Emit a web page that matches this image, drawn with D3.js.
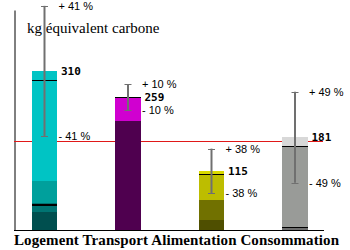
<!DOCTYPE html>
<html><head><meta charset="utf-8">
<script src="https://cdn.jsdelivr.net/npm/d3@7"></script>
<style>body{margin:0;background:#fff;} svg{display:block;}</style>
</head><body>
<svg id="c" width="350" height="250"></svg>
<script>
const categories = ["Logement", "Transport", "Alimentation", "Consommation"];
const totals = [310, 259, 115, 181];
const uncertainty = [41, 10, 38, 49];
const referenceValue = 173;
// stacked sub-part boundaries (kg eq. C), bottom to top
const segmentBounds = [
  [0, 35, 52.7, 95.6, 310],
  [0, 212.5, 259],
  [0, 19.5, 58.5, 108.6, 115],
  [0, 5, 163.8, 181]
];
// black separator lines inside bars
const separators = [[48, 50.7, 292.5], [259], [108.6], [5.3, 163.8]];
const title = "kg équivalent carbone";

const segmentColors = [
  ["#004f4f", "#007472", "#00a09c", "#00c4c4"],
  ["#4f004f", "#d000d0"],
  ["#4f4f00", "#717100", "#bdbd00", "#d9d900"],
  ["#6e6e6e", "#999b98", "#d8d8d8"]
];

const svg = d3.select("#c");
const y = d3.scaleLinear().domain([0, 429]).range([230, 10]);
const x = d3.scalePoint().domain(categories).range([44.5, 295]);
const bw = 25.5;

// y axis
svg.append("g").attr("transform", "translate(14.5,0)")
  .call(d3.axisLeft(y).ticks(0).tickSizeOuter(0))
  .select(".domain").attr("stroke", "#000");

// reference line
svg.append("line").attr("x1", 14).attr("x2", 323)
  .attr("y1", Math.round(y(referenceValue)) + 0.5).attr("y2", Math.round(y(referenceValue)) + 0.5)
  .attr("stroke", "#e01818").attr("stroke-width", 1).attr("shape-rendering", "crispEdges");

// bars
categories.forEach((c, i) => {
  const cx = x(c);
  const b = segmentBounds[i];
  const g = svg.append("g").attr("shape-rendering", "crispEdges");
  for (let k = 0; k < b.length - 1; k++) {
    g.append("rect").attr("x", cx - bw / 2).attr("width", bw)
      .attr("y", y(b[k + 1])).attr("height", y(b[k]) - y(b[k + 1]))
      .attr("fill", segmentColors[i][k]);
  }
  separators[i].forEach(v => {
    g.append("line").attr("x1", cx - bw / 2).attr("x2", cx + bw / 2)
      .attr("y1", Math.round(y(v)) + 0.5).attr("y2", Math.round(y(v)) + 0.5)
      .attr("stroke", "#000").attr("stroke-width", 1);
  });
});

// baseline
svg.append("line").attr("x1", 14).attr("x2", 324)
  .attr("y1", y(0) + 0.5).attr("y2", y(0) + 0.5).attr("stroke", "#000");

// title
svg.append("text").attr("x", 27).attr("y", 33)
  .attr("font-family", "Liberation Serif, Times New Roman, serif").attr("font-size", 15)
  .attr("fill", "#000").text(title);

// error bars + labels
categories.forEach((c, i) => {
  const cx = x(c);
  const hi = totals[i] * (1 + uncertainty[i] / 100);
  const lo = totals[i] * (1 - uncertainty[i] / 100);
  const g = svg.append("g");
  g.append("line").attr("x1", cx).attr("x2", cx).attr("y1", y(hi)).attr("y2", y(lo))
    .attr("stroke", "#707070").attr("stroke-width", 2);
  [hi, lo].forEach(v => {
    g.append("line").attr("x1", cx - 3.5).attr("x2", cx + 3.5)
      .attr("y1", Math.round(y(v)) + 0.5).attr("y2", Math.round(y(v)) + 0.5)
      .attr("stroke", "#707070").attr("stroke-width", 1);
  });
  const pf = "Liberation Sans, Arial, sans-serif";
  g.append("text").attr("x", cx + 14).attr("y", y(hi) + 4)
    .attr("font-family", pf).attr("font-size", 11).text("+ " + uncertainty[i] + " %");
  g.append("text").attr("x", cx + 14).attr("y", y(lo) + 4)
    .attr("font-family", pf).attr("font-size", 11).text("- " + uncertainty[i] + " %");
  g.append("text").attr("x", cx + 16.5).attr("y", y(totals[i]) + 4)
    .attr("font-family", "DejaVu Sans Mono, monospace").attr("font-weight", "bold")
    .attr("font-size", 11).text(totals[i]);
});

// category labels (one flowing line)
const t = svg.append("text").attr("x", 14).attr("y", 245)
  .attr("font-family", "Liberation Serif, Times New Roman, serif").attr("font-weight", "bold")
  .attr("font-size", 15).attr("fill", "#000")
  .attr("textLength", 325).attr("lengthAdjust", "spacing");
t.selectAll("tspan").data(categories).join("tspan")
  .text((d, i) => (i ? " " : "") + d);
</script>
</body></html>
